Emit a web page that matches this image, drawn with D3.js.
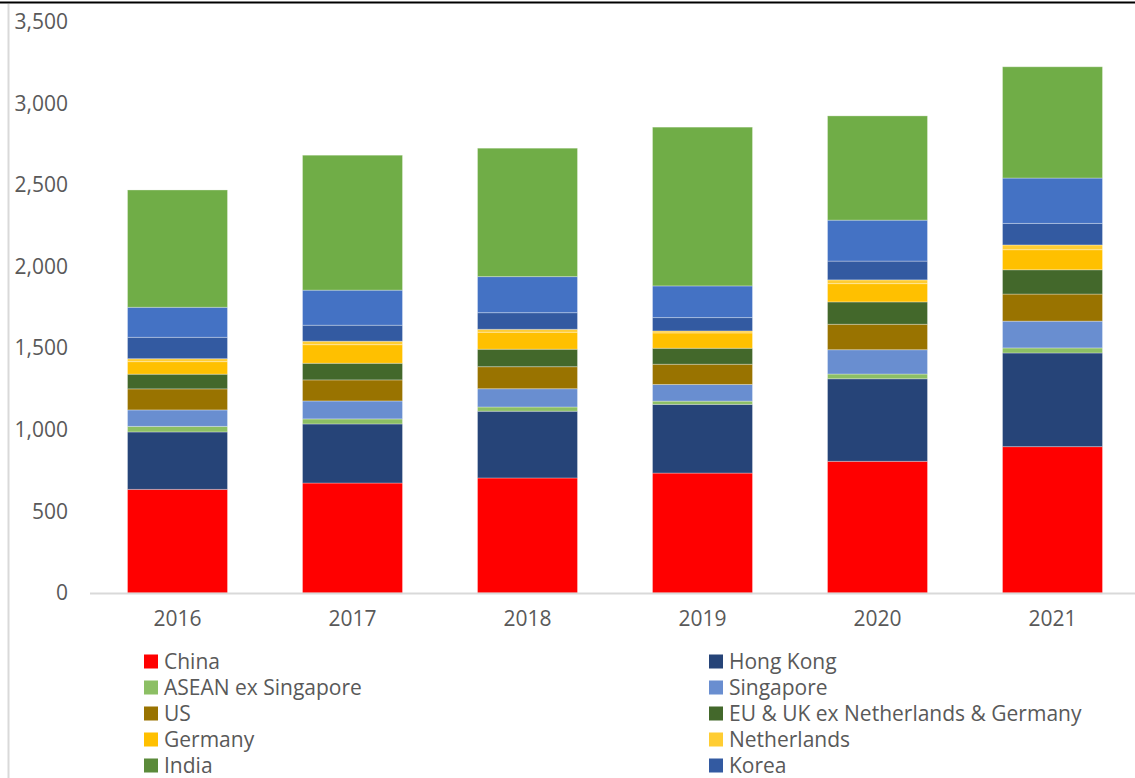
<!DOCTYPE html>
<html lang="en">
<head>
    <meta charset="utf-8">
    <style>
        body { margin: 0; overflow: hidden; background: #fff; }
        svg { display: block; }
        text { font-family: "Open Sans", sans-serif; fill: #595959; }
    </style>
</head>
<body>
    <svg width="1135" height="778"></svg>
    <script src="https://cdn.jsdelivr.net/npm/d3@7"></script>
    <script>
        // Data
        const years = ["2016", "2017", "2018", "2019", "2020", "2021"];
        const china       = [635, 674, 705, 735, 807, 897];
        const hongKong    = [352, 362, 409, 421, 506, 574];
        const asean       = [34, 31, 26, 20, 29, 31];
        const singapore   = [101, 110, 112, 102, 149, 164];
        const us          = [129, 129, 135, 124, 156, 166];
        const euUk        = [90, 102, 107, 98, 137, 149];
        const germany     = [77, 114, 104, 94, 112, 123];
        const netherlands = [18, 21, 18, 12, 23, 29];
        const india       = [0, 0, 0, 0, 0, 0];
        const korea       = [131, 98, 102, 82, 115, 132];
        const japan       = [184, 215, 221, 194, 251, 278];
        const other       = [719, 827, 787, 973, 639, 682];
        const yTicks = [0, 500, 1000, 1500, 2000, 2500, 3000, 3500];

        const series = [
            { name: "China", values: china, color: "#FF0000" },
            { name: "Hong Kong", values: hongKong, color: "#264478" },
            { name: "ASEAN ex Singapore", values: asean, color: "#8CBF64" },
            { name: "Singapore", values: singapore, color: "#698ED0" },
            { name: "US", values: us, color: "#997300" },
            { name: "EU & UK ex Netherlands & Germany", values: euUk, color: "#43682B" },
            { name: "Germany", values: germany, color: "#FFC000" },
            { name: "Netherlands", values: netherlands, color: "#FFCD33" },
            { name: "India", values: india, color: "#5B8A3A" },
            { name: "Korea", values: korea, color: "#335AA1" },
            { name: "Japan", values: japan, color: "#4472C4" },
            { name: "Other", values: other, color: "#70AD47" }
        ];
        // the legend in the picture is cut after its fifth row
        const legendCount = 10;

        const svg = d3.select("svg");

        // frame bits of the original crop
        svg.append("line").attr("x1", 0).attr("x2", 1135).attr("y1", 2.5).attr("y2", 2.5)
            .attr("stroke", "#000").attr("stroke-width", 2);
        svg.append("line").attr("x1", 8.5).attr("x2", 8.5).attr("y1", 4).attr("y2", 778)
            .attr("stroke", "#d9d9d9").attr("stroke-width", 2);

        // table for d3.stack
        const table = years.map((y, i) => {
            const row = { year: y };
            series.forEach(s => { row[s.name] = s.values[i]; });
            return row;
        });
        const stacked = d3.stack().keys(series.map(s => s.name))(table);

        const x = d3.scaleBand().domain(years).range([90, 1140])
            .paddingInner(0.4286).paddingOuter(0.2143);
        const y = d3.scaleLinear().domain([0, 3500]).range([593, 21.9]);

        // Bars
        svg.append("g").selectAll("g")
            .data(stacked)
            .join("g")
            .attr("fill", (d, i) => series[i].color)
            .selectAll("rect")
            .data(d => d)
            .join("rect")
            .attr("x", d => x(d.data.year))
            .attr("width", x.bandwidth())
            .attr("y", d => y(d[1]))
            .attr("height", d => y(d[0]) - y(d[1]))
            .attr("stroke", "rgba(255,255,255,0.3)")
            .attr("stroke-width", 1);

        // X axis
        const xAxis = svg.append("g")
            .attr("transform", `translate(0, ${y(0)})`)
            .call(d3.axisBottom(x).tickSize(0).tickPadding(18));
        xAxis.select(".domain").remove();
        xAxis.append("line").attr("x1", 90).attr("x2", 1135).attr("y1", 0.5).attr("y2", 0.5)
            .attr("stroke", "#d9d9d9").attr("stroke-width", 2);
        xAxis.selectAll("text")
            .attr("font-family", "Open Sans, sans-serif")
            .attr("font-size", 21).attr("fill", "#595959");

        // Y axis (labels only)
        const yAxis = svg.append("g")
            .attr("transform", "translate(68, 0)")
            .call(d3.axisLeft(y).tickValues(yTicks).tickSize(0).tickPadding(0)
                .tickFormat(d3.format(",")));
        yAxis.select(".domain").remove();
        yAxis.selectAll("text")
            .attr("font-family", "Open Sans, sans-serif")
            .attr("font-size", 21).attr("fill", "#595959");

        // Legend, two columns, row by row
        const legend = svg.append("g");
        const colX = [144, 709];
        series.slice(0, legendCount).forEach((s, i) => {
            const col = i % 2;
            const row = Math.floor(i / 2);
            const cy = 661.5 + row * 26;
            const g = legend.append("g").attr("transform", `translate(${colX[col]}, ${cy})`);
            g.append("rect").attr("x", 0).attr("y", -7).attr("width", 14).attr("height", 14)
                .attr("fill", s.color);
            g.append("text").attr("x", 20).attr("y", 0).attr("dy", "0.35em")
                .attr("font-size", 21).text(s.name);
        });
    </script>
</body>
</html>
